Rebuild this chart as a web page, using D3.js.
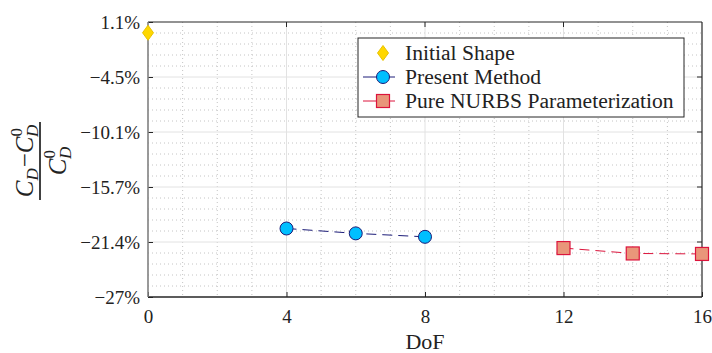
<!DOCTYPE html>
<html>
<head>
<meta charset="utf-8">
<script src="https://cdn.jsdelivr.net/npm/d3@7"></script>
<style>
  body { margin: 0; background: #fff; }
</style>
</head>
<body>
<script>
// DATA
const initialDof = [0];
const initialVal = [0];
const presentDof = [4, 6, 8];
const presentVal = [-20.0, -20.5, -20.85];
const nurbsDof = [12, 14, 16];
const nurbsVal = [-22.0, -22.55, -22.6];

const xTicks = [0, 4, 8, 12, 16];
const yTicks = [1.1, -4.52, -10.14, -15.76, -21.38, -27];
const yTickLabels = ["1.1%", "\u22124.5%", "\u221210.1%", "\u221215.7%", "\u221221.4%", "\u221227%"];
const legendNames = ["Initial Shape", "Present Method", "Pure NURBS Parameterization"];

// SIZES
const W = 712, H = 353;
const margin = {top: 22, right: 10, bottom: 56, left: 148};
const FONT = "Liberation Serif";

const svg = d3.select("body").append("svg")
  .attr("width", W).attr("height", H)
  .attr("font-family", FONT);

const x = d3.scaleLinear().domain([0, 16]).range([margin.left, W - margin.right]);
const y = d3.scaleLinear().domain([-27, 1.1]).range([H - margin.bottom, margin.top]);

const x0 = x.range()[0], x1 = x.range()[1];
const yTop = y.range()[1], yBot = y.range()[0];

// MINOR GRID
const xMinor = d3.range(1, 16).filter(d => d % 4 != 0);
const yMinor = [];
for (let i = 0; i < yTicks.length - 1; i++) {
  for (let k = 1; k < 5; k++) yMinor.push(yTicks[i] + (yTicks[i + 1] - yTicks[i]) * k / 5);
}
svg.append("g").selectAll("line").data(xMinor).join("line")
  .attr("x1", d => x(d)).attr("x2", d => x(d))
  .attr("y1", yTop).attr("y2", yBot)
  .attr("stroke", "#c4c4c4").attr("stroke-dasharray", "1,3");
svg.append("g").selectAll("line").data(yMinor).join("line")
  .attr("x1", x0).attr("x2", x1)
  .attr("y1", d => y(d)).attr("y2", d => y(d))
  .attr("stroke", "#c4c4c4").attr("stroke-dasharray", "1,3");

// MAJOR GRID
svg.append("g").selectAll("line").data(xTicks.slice(1, -1)).join("line")
  .attr("x1", d => x(d)).attr("x2", d => x(d))
  .attr("y1", yTop).attr("y2", yBot)
  .attr("stroke", "#e2e2e2");
svg.append("g").selectAll("line").data(yTicks.slice(1, -1)).join("line")
  .attr("x1", x0).attr("x2", x1)
  .attr("y1", d => y(d)).attr("y2", d => y(d))
  .attr("stroke", "#e2e2e2");

// AXES
const xAxis = svg.append("g")
  .attr("transform", `translate(0,${yBot})`)
  .call(d3.axisBottom(x).tickValues(xTicks).tickSizeInner(-5).tickSizeOuter(0).tickPadding(12));
const yAxis = svg.append("g")
  .attr("transform", `translate(${x0},0)`)
  .call(d3.axisLeft(y).tickValues(yTicks).tickFormat((d, i) => yTickLabels[i])
    .tickSizeInner(-5).tickSizeOuter(0).tickPadding(8));
[xAxis, yAxis].forEach(a => {
  a.select(".domain").remove();
  a.selectAll("text")
    .style("font-family", FONT).style("font-size", "19px")
    .attr("fill", "#222");
  a.selectAll(".tick line").attr("stroke", "#262626");
});
xAxis.selectAll("text").attr("dy", "0.72em");
// mirrored ticks
svg.append("g").selectAll("line").data(xTicks.slice(1, -1)).join("line")
  .attr("x1", d => x(d)).attr("x2", d => x(d))
  .attr("y1", yTop).attr("y2", yTop + 5).attr("stroke", "#262626");
svg.append("g").selectAll("line").data(yTicks.slice(1, -1)).join("line")
  .attr("x1", x1 - 5).attr("x2", x1)
  .attr("y1", d => y(d)).attr("y2", d => y(d)).attr("stroke", "#262626");

// BOX
svg.append("line").attr("x1", x0).attr("x2", x1).attr("y1", yTop).attr("y2", yTop)
  .attr("stroke", "#262626").attr("stroke-width", 1.2);
svg.append("line").attr("x1", x1).attr("x2", x1).attr("y1", yTop).attr("y2", yBot)
  .attr("stroke", "#262626").attr("stroke-width", 1.2);
svg.append("line").attr("x1", x0).attr("x2", x1).attr("y1", yBot).attr("y2", yBot)
  .attr("stroke", "#262626").attr("stroke-width", 1.4);
svg.append("line").attr("x1", x0).attr("x2", x0).attr("y1", yTop).attr("y2", yBot)
  .attr("stroke", "#808080").attr("stroke-width", 1.6);

// LINES
const present = presentDof.map((d, i) => [d, presentVal[i]]);
const nurbs = nurbsDof.map((d, i) => [d, nurbsVal[i]]);
const line = d3.line().x(d => x(d[0])).y(d => y(d[1]));

svg.append("path").datum(present).attr("d", line)
  .attr("fill", "none").attr("stroke", "#1c1c78").attr("stroke-width", 1)
  .attr("stroke-dasharray", "10,6");
svg.append("path").datum(nurbs).attr("d", line)
  .attr("fill", "none").attr("stroke", "#dc143c").attr("stroke-width", 1)
  .attr("stroke-dasharray", "10,6");

// MARKERS
function diamond(g, cx, cy) {
  g.append("path")
    .attr("d", `M${cx},${cy - 7.5}L${cx + 5.5},${cy}L${cx},${cy + 7.5}L${cx - 5.5},${cy}Z`)
    .attr("fill", "#ffd700").attr("stroke", "#e8c200").attr("stroke-width", 1);
}
function circle(g, cx, cy) {
  g.append("circle").attr("cx", cx).attr("cy", cy).attr("r", 6.5)
    .attr("fill", "#00bfff").attr("stroke", "#1c1c78").attr("stroke-width", 1);
}
function square(g, cx, cy) {
  g.append("rect").attr("x", cx - 6.5).attr("y", cy - 6.5).attr("width", 13).attr("height", 13)
    .attr("fill", "#e9967a").attr("stroke", "#dc143c").attr("stroke-width", 1.2);
}
const marks = svg.append("g");
initialDof.forEach((d, i) => diamond(marks, x(d), y(initialVal[i])));
present.forEach(d => circle(marks, x(d[0]), y(d[1])));
nurbs.forEach(d => square(marks, x(d[0]), y(d[1])));

// LEGEND
const lg = svg.append("g").attr("transform", "translate(358,38)");
lg.append("rect").attr("width", 326).attr("height", 79)
  .attr("fill", "#fff").attr("stroke", "#262626").attr("stroke-width", 1);
const rowY = [15, 39, 63];
diamond(lg, 25, rowY[0]);
lg.append("line").attr("x1", 5).attr("x2", 37).attr("y1", rowY[1]).attr("y2", rowY[1])
  .attr("stroke", "#1c1c78");
circle(lg, 25, rowY[1]);
lg.append("line").attr("x1", 5).attr("x2", 37).attr("y1", rowY[2]).attr("y2", rowY[2])
  .attr("stroke", "#dc143c");
square(lg, 25, rowY[2]);
lg.selectAll("text.lab").data(legendNames).join("text")
  .attr("class", "lab")
  .attr("x", 47).attr("y", (d, i) => rowY[i] + 6.5)
  .style("font-size", "21.6px").attr("fill", "#222")
  .text(d => d);

// X LABEL
svg.append("text").attr("x", (x0 + x1) / 2).attr("y", 349)
  .attr("text-anchor", "middle").style("font-size", "22px").attr("fill", "#222").text("DoF");

// Y LABEL (fraction)
const yl = svg.append("g").attr("transform", "translate(40,161) rotate(-90)");
yl.append("line").attr("x1", -39).attr("x2", 39).attr("y1", 0).attr("y2", 0)
  .attr("stroke", "#111").attr("stroke-width", 1.6);
const num = yl.append("text").attr("x", 0).attr("y", -7).attr("text-anchor", "middle")
  .style("font-size", "25px").attr("fill", "#222");
num.append("tspan").attr("font-style", "italic").text("C");
num.append("tspan").attr("font-style", "italic").style("font-size", "17px").attr("dy", 5).text("D");
num.append("tspan").attr("dy", -5).attr("dx", 1).text("\u2212");
num.append("tspan").attr("font-style", "italic").text("C");
num.append("tspan").style("font-size", "17px").attr("dy", -11).text("0");
num.append("tspan").attr("font-style", "italic").style("font-size", "17px").attr("dx", -9).attr("dy", 16).text("D");
const den = yl.append("text").attr("x", 0).attr("y", 26).attr("text-anchor", "middle")
  .style("font-size", "25px").attr("fill", "#222");
den.append("tspan").attr("font-style", "italic").text("C");
den.append("tspan").style("font-size", "17px").attr("dy", -11).text("0");
den.append("tspan").attr("font-style", "italic").style("font-size", "17px").attr("dx", -9).attr("dy", 16).text("D");
</script>
</body>
</html>
